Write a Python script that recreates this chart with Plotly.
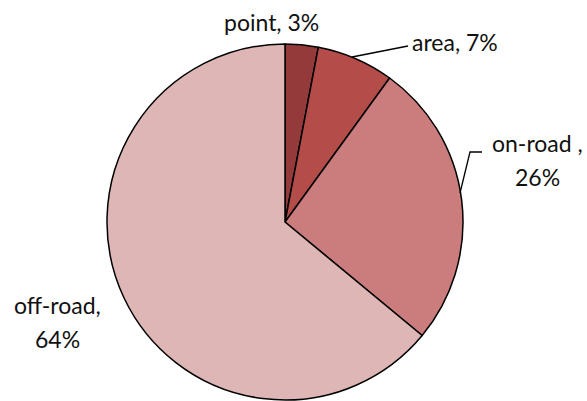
import plotly.graph_objects as go

# Emission source shares
categories = ["point", "area", "on-road", "off-road"]
shares = [3, 7, 26, 64]
colors = ["#943a3a", "#b44c4a", "#ca7d7c", "#dfb6b6"]

W, H = 587, 401
FONT = "Lato"


def px(x, y):
    """Convert pixel coordinates (origin top-left) to paper coordinates."""
    return x / W, 1 - y / H


cx, cy, r = 285, 222, 178
x0, y1 = px(cx - r, cy - r)
x1, y0 = px(cx + r, cy + r)

fig = go.Figure(
    go.Pie(
        labels=categories,
        values=shares,
        sort=False,
        direction="clockwise",
        rotation=0,
        marker=dict(colors=colors, line=dict(color="black", width=1.5)),
        textinfo="none",
        hoverinfo="label+percent",
        domain=dict(x=[x0, x1], y=[y0, y1]),
        showlegend=False,
    )
)

# Slice labels: (lines, anchor x, anchor y, xanchor)
label_specs = [
    ([f"{categories[0]}, {shares[0]}%"], 271, 22, "center"),
    ([f"{categories[1]}, {shares[1]}%"], 410, 42, "left"),
    ([f"{categories[2]} ,", f"{shares[2]}%"], 537, 143, "center"),
    ([f"{categories[3]},", f"{shares[3]}%"], 57, 305, "center"),
]
annotations = []
for lines, lx, ly, anchor in label_specs:
    for i, line in enumerate(lines):
        ax, ay = px(lx, ly + i * 34)
        annotations.append(
            dict(
                x=ax, y=ay, xref="paper", yref="paper",
                text=line, showarrow=False,
                xanchor=anchor, yanchor="middle",
                font=dict(family=FONT, size=23, color="#111111"),
            )
        )

# Leader lines for the labels placed away from their slices
shapes = []
for pts in [
    [(352, 57), (408, 46)],
    [(460, 193), (470, 152), (482, 152)],
]:
    path = "M " + " L ".join(f"{px(x, y)[0]},{px(x, y)[1]}" for x, y in pts)
    shapes.append(
        dict(type="path", path=path, xref="paper", yref="paper",
             line=dict(color="black", width=1.3))
    )

fig.update_layout(
    width=W,
    height=H,
    margin=dict(l=0, r=0, t=0, b=0),
    paper_bgcolor="white",
    plot_bgcolor="white",
    annotations=annotations,
    shapes=shapes,
)

fig.write_html("out.html")
